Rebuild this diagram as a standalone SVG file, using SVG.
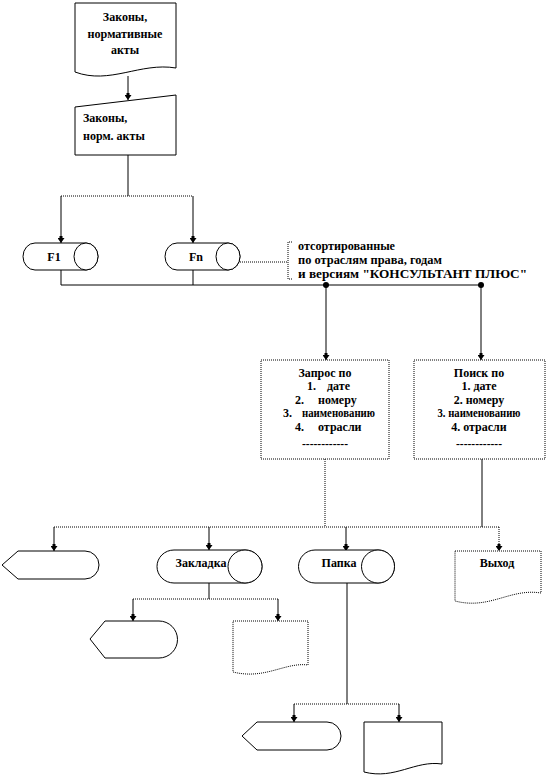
<svg xmlns="http://www.w3.org/2000/svg" width="547" height="778" viewBox="0 0 547 778">
<style>
.sh{fill:#fff;stroke:#000;stroke-width:1}
.dt{fill:#fff;stroke:#000;stroke-width:1;stroke-dasharray:1,1}
.ln{fill:none;stroke:#000;stroke-width:1}
.dl{fill:none;stroke:#000;stroke-width:1;stroke-dasharray:1,1}
text{font-family:"Liberation Serif","Times New Roman","DejaVu Serif",serif;font-weight:bold;font-size:12px;fill:#000}
.m{text-anchor:middle}
</style>
<defs>
<marker id="ar" markerUnits="userSpaceOnUse" markerWidth="7" markerHeight="7" refX="7" refY="3.5" orient="auto" viewBox="0 0 7 7">
<path d="M2,0 L7,3.5 L2,7 Z M0,2 H3 V5 H0 Z" fill="#000"/>
</marker>
</defs>
<g id="connectors">
<path class="ln" d="M128,76 V100" marker-end="url(#ar)"/>
<path class="ln" d="M128,155 V196"/>
<path class="dl" d="M61,196 H193"/>
<path class="ln" d="M61,196 V243" marker-end="url(#ar)"/>
<path class="ln" d="M193,196 V243" marker-end="url(#ar)"/>
<path class="ln" d="M61,270 V285 M193,270 V285"/>
<path class="ln" d="M61,285 H482"/>
<path class="dl" d="M240,262 H288"/>
<path class="dl" d="M292,242 H288 V279 H292"/>
<circle cx="326" cy="285" r="3" fill="#000"/>
<circle cx="481" cy="285" r="3" fill="#000"/>
<path class="ln" d="M326,285 V360" marker-end="url(#ar)"/>
<path class="ln" d="M481,285 V360" marker-end="url(#ar)"/>
<path class="dl" d="M325,459 V527"/>
<path class="ln" d="M482,459 V527"/>
<path class="dl" d="M54,527 H499"/>
<path class="dl" d="M499,527 V551" marker-end="url(#ar)"/>
<path class="ln" d="M54,527 V551" marker-end="url(#ar)"/>
<path class="ln" d="M209,527 V550" marker-end="url(#ar)"/>
<path class="ln" d="M346,527 V551" marker-end="url(#ar)"/>
<path class="ln" d="M209,583 V599"/>
<path class="dl" d="M133,599 H278"/>
<path class="ln" d="M133,599 V621" marker-end="url(#ar)"/>
<path class="ln" d="M278,599 V621" marker-end="url(#ar)"/>
<path class="ln" d="M347,583 V704"/>
<path class="dl" d="M294,704 H399"/>
<path class="ln" d="M294,704 V722" marker-end="url(#ar)"/>
<path class="ln" d="M399,704 V722" marker-end="url(#ar)"/>
</g>
<g id="doc-laws">
<path class="sh" d="M75,3 H176 V68 C140,62 110,85 75,72 Z"/>
<text class="m" x="125" y="21">Законы,</text>
<text class="m" x="125" y="38" textLength="75" lengthAdjust="spacingAndGlyphs">нормативные</text>
<text class="m" x="125" y="54">акты</text>
</g>
<g id="input-laws">
<path class="sh" d="M75,107 L176,95 V155 H75 Z"/>
<text x="83" y="122">Законы,</text>
<text x="83" y="140">норм. акты</text>
</g>
<g id="F1">
<path class="sh" d="M35,243 H86 A12,13.5 0 0 1 86,270 H35 A12,13.5 0 0 1 35,243 Z"/>
<ellipse class="sh" cx="86" cy="256.5" rx="12" ry="13.5"/>
<text class="m" x="54" y="261">F1</text>
</g>
<g id="Fn">
<path class="sh" d="M177,243 H228 A12,13.5 0 0 1 228,270 H177 A12,13.5 0 0 1 177,243 Z"/>
<ellipse class="sh" cx="228" cy="256.5" rx="12" ry="13.5"/>
<text class="m" x="196" y="261">Fn</text>
</g>
<g id="annotation">
<text x="298" y="250" textLength="97" lengthAdjust="spacingAndGlyphs">отсортированные</text>
<text x="298" y="264" textLength="144" lengthAdjust="spacingAndGlyphs">по отраслям права, годам</text>
<text x="298" y="278" textLength="229" lengthAdjust="spacingAndGlyphs">и версиям "КОНСУЛЬТАНТ  ПЛЮС"</text>
</g>
<g id="query">
<rect class="dt" x="261" y="360" width="128" height="99"/>
<text class="m" x="325" y="377">Запрос по</text>
<text x="307" y="390">1.</text><text x="327" y="390">дате</text>
<text x="295" y="404">2.</text><text x="318" y="404">номеру</text>
<text x="283" y="417">3.</text><text x="302" y="417" textLength="73" lengthAdjust="spacingAndGlyphs">наименованию</text>
<text x="295" y="431">4.</text><text x="318" y="431">отрасли</text>
<text class="m" x="325" y="448" textLength="46" lengthAdjust="spacingAndGlyphs">------------</text>
</g>
<g id="search">
<rect class="dt" x="414" y="360" width="131" height="99"/>
<text class="m" x="479" y="377">Поиск по</text>
<text class="m" x="479" y="390">1. дате</text>
<text class="m" x="479" y="404">2. номеру</text>
<text class="m" x="479" y="417" textLength="83" lengthAdjust="spacingAndGlyphs">3. наименованию</text>
<text class="m" x="479" y="431">4. отрасли</text>
<text class="m" x="479" y="448" textLength="46" lengthAdjust="spacingAndGlyphs">------------</text>
</g>
<g id="display1">
<path class="sh" d="M2,565 L18,551 H85 A14,14 0 0 1 85,579 H18 Z"/>
</g>
<g id="bookmark">
<path class="sh" d="M174,550 H245 A17,16.5 0 0 1 245,583 H174 A17,16.5 0 0 1 174,550 Z"/>
<ellipse class="sh" cx="245" cy="566.5" rx="17" ry="16.5"/>
<text class="m" x="201" y="567">Закладка</text>
</g>
<g id="folder">
<path class="sh" d="M315,550 H378 A16.5,16.5 0 0 1 378,583 H315 A16.5,16.5 0 0 1 315,550 Z"/>
<ellipse class="sh" cx="378" cy="566.5" rx="16.5" ry="16.5"/>
<text class="m" x="339" y="567">Папка</text>
</g>
<g id="exit">
<path class="dt" d="M455,551 H541 V593 C510,588 490,610 455,601 Z"/>
<text class="m" x="497" y="567">Выход</text>
</g>
<g id="display2">
<path class="sh" d="M90,639 L105,621 H159 A18.5,18.5 0 0 1 159,658 H105 Z"/>
</g>
<g id="doc2">
<path class="dt" d="M233,621 H308 V665 C285,662 265,680 233,672 Z"/>
</g>
<g id="display3">
<path class="sh" d="M242,736 L257,722 H327 A14,14 0 0 1 327,750 H257 Z"/>
</g>
<g id="doc3">
<path class="sh" d="M364,722 H442 V764 C415,760 395,780 364,772 Z"/>
</g>
</svg>
